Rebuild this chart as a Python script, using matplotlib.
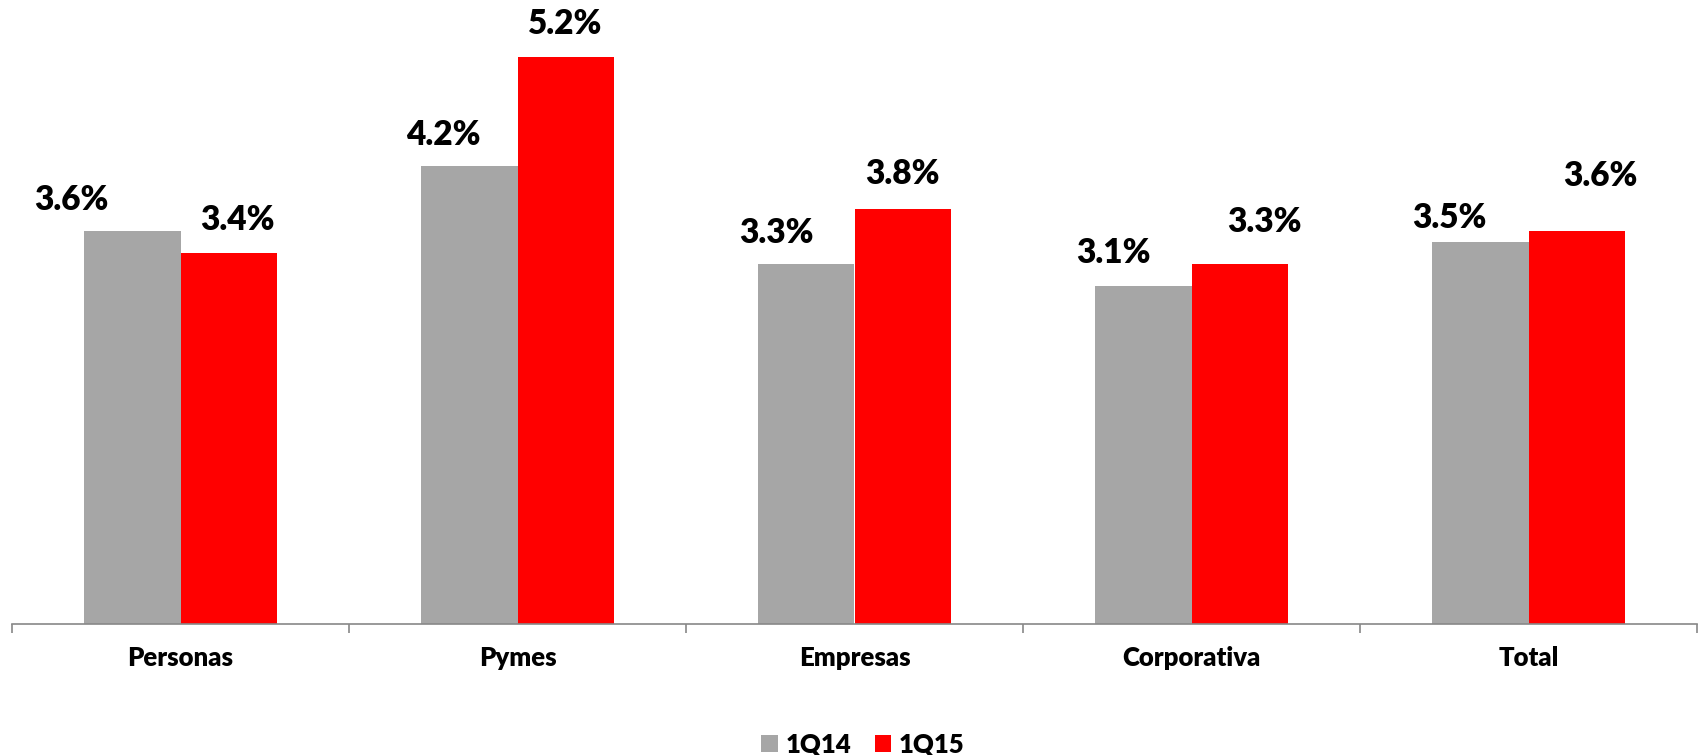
import numpy as np
import matplotlib.pyplot as plt

categories = ["Personas", "Pymes", "Empresas", "Corporativa", "Total"]
q14 = [3.6, 4.2, 3.3, 3.1, 3.5]
q15 = [3.4, 5.2, 3.8, 3.3, 3.6]

# label offsets (pixels) copied from the manually placed labels in the original
gray_off = [(-61, 31), (-26, 31), (-30, 31), (-30, 33), (-31, 24)]
red_off = [(9, 33), (0, 33), (0, 35), (25, 42), (24, 55)]

plt.rcParams["font.family"] = ["Lato", "DejaVu Sans"]
plt.rcParams["font.weight"] = "bold"

fig = plt.figure(figsize=(17.02, 7.55), dpi=100)
ax = fig.add_axes([12 / 1702, 131 / 755, 1685 / 1702, 1 - 131 / 755])

x = np.arange(len(categories))
w = 0.285
b1 = ax.bar(x - w / 2, q14, w, color="#A6A6A6", label="1Q14")
b2 = ax.bar(x + w / 2, q15, w, color="#FF0000", label="1Q15")

for xi, v, off in zip(x - w / 2, q14, gray_off):
    ax.annotate(f"{v:.1f}%", (xi, v), xytext=off, textcoords="offset pixels",
                ha="center", va="center", fontsize=24, fontweight="heavy")
for xi, v, off in zip(x + w / 2, q15, red_off):
    ax.annotate(f"{v:.1f}%", (xi, v), xytext=off, textcoords="offset pixels",
                ha="center", va="center", fontsize=24, fontweight="heavy")

ax.set_xlim(-0.5, len(categories) - 0.5)
ax.set_ylim(0, 5.72)

for s in ["top", "right", "left"]:
    ax.spines[s].set_visible(False)
ax.spines["bottom"].set_color("#888888")
ax.spines["bottom"].set_linewidth(1.2)
ax.set_yticks([])

ax.set_xticks(np.arange(len(categories) + 1) - 0.5)
ax.set_xticklabels([])
ax.tick_params(axis="x", which="major", length=6.5, width=1.2, color="#888888")
ax.set_xticks(x, minor=True)
ax.set_xticklabels(categories, minor=True, fontsize=18.5, fontweight="heavy")
ax.tick_params(axis="x", which="minor", length=0, pad=16)

fig.legend(handles=[b1, b2], loc="center", bbox_to_anchor=(0.507, 0.014),
           ncol=2, frameon=False, handlelength=0.65,
           handleheight=0.65, handletextpad=0.3, columnspacing=0.9,
           prop={"weight": "heavy", "size": 18.5})

fig.savefig("out.png", dpi=100)
